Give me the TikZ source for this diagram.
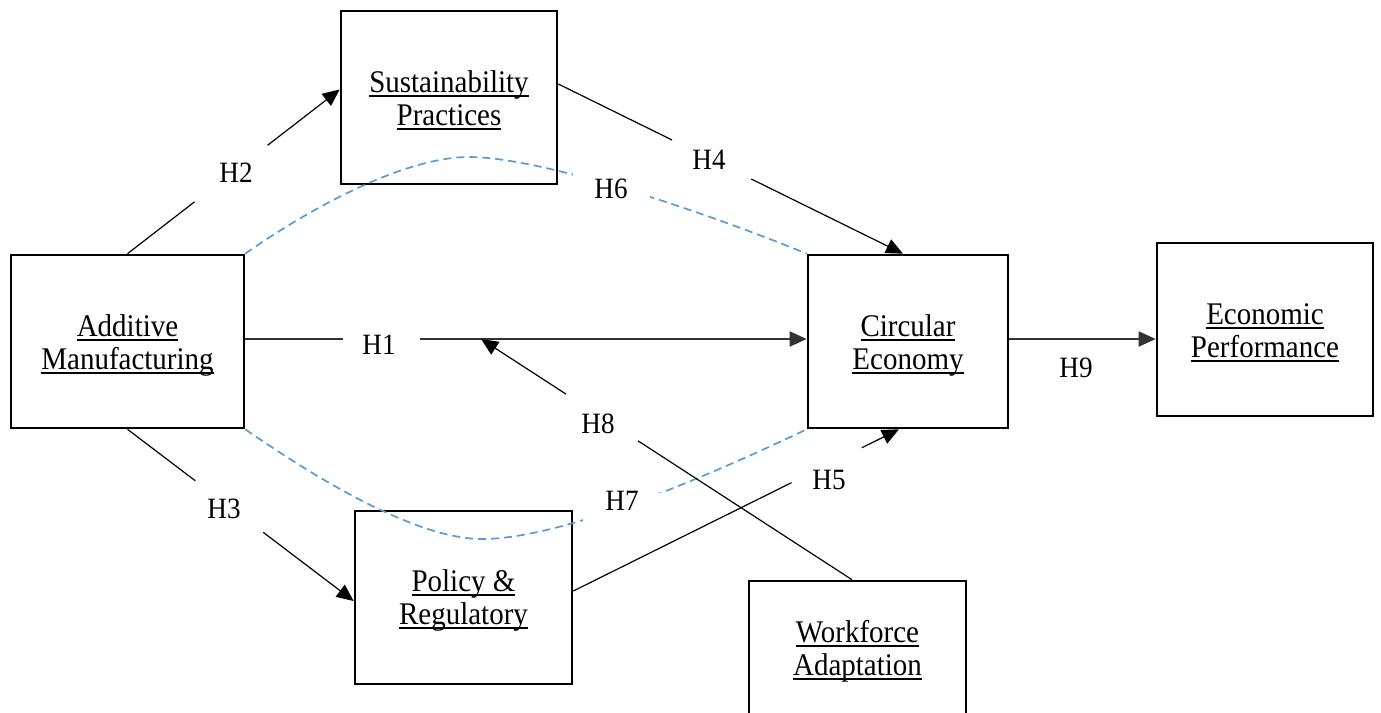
\documentclass[tikz,border=0pt]{standalone}
\usepackage{fontspec}
\setmainfont[FakeStretch=0.92]{Liberation Serif}
\usetikzlibrary{arrows.meta,calc}
% underline at a fixed distance below the baseline
\newcommand{\ulword}[1]{\setbox0\hbox{#1}\rlap{\vrule width \wd0 height -2.6pt depth 4.6pt}\box0}
\definecolor{dashblue}{HTML}{5B9BD5}
\begin{document}
\begin{tikzpicture}[x=1pt,y=-1pt,
  boxnode/.style={draw, line width=2.6pt, minimum height=173pt, inner sep=0pt},
  boxtext/.style={inner sep=0pt, align=center, font=\fontsize{31.5}{33}\selectfont},
  link/.style={line width=1.2pt},
  mainlink/.style={line width=1.8pt, black!80},
  headed/.style={-{Triangle[length=17pt,width=15pt]}},
  hyp/.style={font=\fontsize{29.5}{32}\selectfont, inner sep=0pt},
  medi/.style={draw=dashblue, line width=1.7pt, dash pattern=on 8pt off 5pt}]
\clip (0,0) rectangle (1381,712);
\fill[white] (0,0) rectangle (1381,712);

% constructs
\node[boxnode, minimum width=233pt] (A) at (127.5,341.5) {};
\node[boxnode, minimum width=216pt] (S) at (449,97.5) {};
\node[boxnode, minimum width=200pt] (C) at (908,341.5) {};
\node[boxnode, minimum width=216pt] (E) at (1265,329.5) {};
\node[boxnode, minimum width=217pt] (P) at (463.5,597.5) {};
\node[boxnode, minimum width=217pt, minimum height=138pt] (W) at (857.5,650) {};

\node[boxtext] (At) at ([yshift=-4pt]A.center) {\ulword{Additive}\\\ulword{Manufacturing}};
\node[boxtext] (St) at ([yshift=-3pt]S.center) {\ulword{Sustainability}\\\ulword{Practices}};
\node[boxtext] (Ct) at ([yshift=-4pt]C.center) {\ulword{Circular}\\\ulword{Economy}};
\node[boxtext] (Et) at ([yshift=-3pt]E.center) {\ulword{Economic}\\\ulword{Performance}};
\node[boxtext] (Pt) at ([yshift=-3pt]P.center) {\ulword{Policy \&}\\\ulword{Regulatory}};
\node[boxtext] (Wt) at ([yshift=-1pt]W.center) {\ulword{Workforce}\\\ulword{Adaptation}};

% mediation paths (dashed)
\draw[medi] (A.north east) .. controls (300,215) and (400,157) .. (469,157)
            .. controls (540,157) and (700,210) .. (C.north west);
\draw[medi] (A.south east) .. controls (300,467) and (410,539) .. (482,539)
            .. controls (560,539) and (700,480) .. (C.south west);
\node[hyp, fill=white, minimum width=77pt, minimum height=30pt] (h6) at (611,189) {H6};
\node[fill=white, inner sep=0pt, minimum width=79pt, minimum height=32pt] (g7) at (622,509) {};
\node[hyp] (h7) at (622,501) {H7};

% H1: direct effect
\coordinate (s1) at ([yshift=2.5pt]A.east);
\coordinate (e1) at ([yshift=2.5pt]C.west);
\draw[mainlink] (s1) -- ($(s1)!0.174!(e1)$);
\draw[mainlink, headed] ($(s1)!0.312!(e1)$) -- (e1);
\coordinate (h8end) at ($(s1)!0.42!(e1)$);
\node[hyp] (h1) at (379,345) {H1};

% H2
\coordinate (s2) at (A.north);
\coordinate (e2) at ([yshift=8pt]S.west);
\draw[link] (s2) -- ($(s2)!0.316!(e2)$);
\draw[link, headed] ($(s2)!0.66!(e2)$) -- (e2);
\node[hyp] (h2) at (236,173) {H2};

% H3
\coordinate (s3) at (A.south);
\coordinate (e3) at ([yshift=-3.5pt]P.west);
\draw[link] (s3) -- ($(s3)!0.30!(e3)$);
\draw[link, headed] ($(s3)!0.60!(e3)$) -- (e3);
\node[hyp] (h3) at (224,509) {H3};

% H4
\coordinate (s4) at ([yshift=13.5pt]S.east);
\coordinate (e4) at ([xshift=-5pt]C.north);
\draw[link] (s4) -- ($(s4)!0.33!(e4)$);
\draw[link, headed] ($(s4)!0.56!(e4)$) -- (e4);
\node[hyp] (h4) at (709,160) {H4};

% H5
\coordinate (s5) at ([yshift=6.5pt]P.east);
\coordinate (e5) at ([xshift=-9pt]C.south);
\draw[link] (s5) -- ($(s5)!0.67!(e5)$);
\draw[link, headed] ($(s5)!0.886!(e5)$) -- (e5);
\node[hyp] (h5) at (829,480) {H5};

% H8: moderation onto H1
\coordinate (s8) at ([xshift=-5.5pt]W.north);
\draw[link] (s8) -- ($(s8)!0.577!(h8end)$);
\draw[link, headed] ($(s8)!0.771!(h8end)$) -- (h8end);
\node[hyp] (h8) at (598,424) {H8};

% H9
\coordinate (c9) at ([yshift=2.5pt]C.east);
\draw[mainlink, headed] (c9) -- (c9 -| E.west);
\node[hyp] (h9) at (1076,368) {H9};
\end{tikzpicture}
\end{document}
